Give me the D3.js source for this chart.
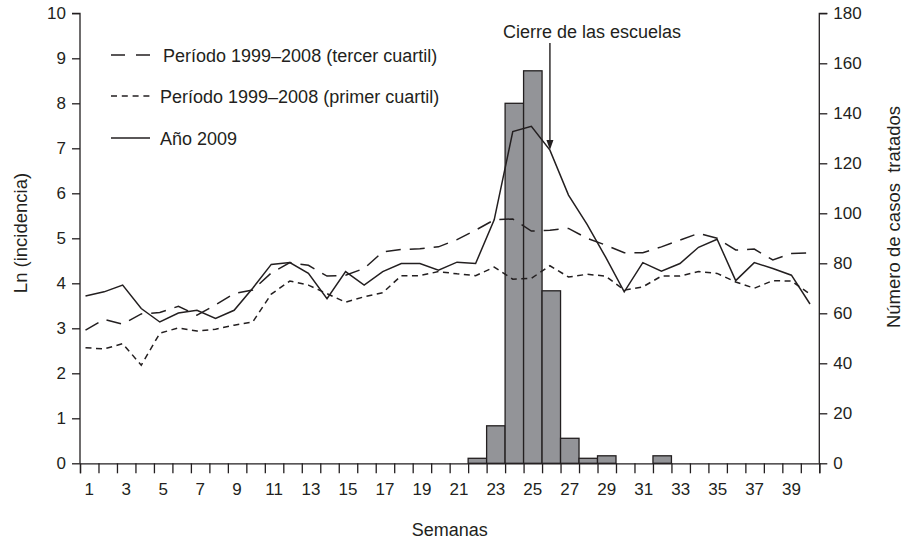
<!DOCTYPE html>
<html>
<head>
<meta charset="utf-8">
<script src="https://cdn.jsdelivr.net/npm/d3@7"></script>
<style>
  html, body { margin: 0; padding: 0; background: #fff; }
  svg { display: block; font-family: "Liberation Sans", Arial, sans-serif; }
</style>
</head>
<body>
<svg id="chart" width="904" height="542"></svg>
<script>
// ---------------- data ----------------
const weeks = d3.range(1, 41);
const weekTickLabels = [1,3,5,7,9,11,13,15,17,19,21,23,25,27,29,31,33,35,37,39];
const lnTicks = [0,1,2,3,4,5,6,7,8,9,10];
const casesTicks = [0,20,40,60,80,100,120,140,160,180];

// Año 2009 (solid)
const year2009 = [3.72,3.81,3.96,3.44,3.14,3.34,3.40,3.22,3.40,3.89,
                  4.42,4.46,4.22,3.66,4.26,3.96,4.26,4.44,4.44,4.29,
                  4.47,4.44,5.41,7.37,7.49,6.96,5.96,5.31,4.58,3.81,
                  4.46,4.27,4.44,4.80,4.98,4.06,4.46,4.33,4.18,3.54];
// Período 1999–2008 (tercer cuartil) (long dash)
const q3 = [2.96,3.20,3.09,3.32,3.35,3.49,3.29,3.52,3.77,3.85,
            4.23,4.46,4.40,4.16,4.18,4.33,4.70,4.75,4.77,4.81,
            4.97,5.18,5.41,5.43,5.16,5.18,5.22,5.00,4.85,4.68,
            4.68,4.81,4.96,5.11,5.00,4.74,4.76,4.52,4.66,4.68];
// Período 1999–2008 (primer cuartil) (short dash)
const q1 = [2.57,2.54,2.66,2.18,2.89,3.01,2.94,2.98,3.07,3.14,
            3.76,4.05,3.96,3.77,3.58,3.70,3.79,4.17,4.17,4.26,
            4.21,4.17,4.36,4.09,4.11,4.39,4.14,4.20,4.16,3.85,
            3.92,4.16,4.16,4.26,4.22,4.03,3.89,4.06,4.05,3.76];
// Número de casos tratados (bars)
const cases = [0,0,0,0,0,0,0,0,0,0,
               0,0,0,0,0,0,0,0,0,0,
               0,2,15,144,157,69,10,2,3,0,
               0,3,0,0,0,0,0,0,0,0];

const closureWeek = 26;
const closureLabel = "Cierre de las escuelas";
const legendLabels = ["Período 1999–2008 (tercer cuartil)", "Período 1999–2008 (primer cuartil)", "Año 2009"];

// ---------------- layout ----------------
const ink = "#231f20";
const barFill = "#939498";
const pLeft = 80, pRight = 819.3, pTop = 13.3, pBottom = 463.3;

const svg = d3.select("#chart");

const xBand = d3.scaleBand().domain(weeks).range([pLeft, pRight]).paddingInner(0).paddingOuter(0);
const xLine = d3.scaleLinear().domain([1, 40]).range([85.5, 810]);
const yLn = d3.scaleLinear().domain([0, 10]).range([pBottom, pTop]);
const yCases = d3.scaleLinear().domain([0, 180]).range([pBottom, pTop]);

// bars
svg.append("g").selectAll("rect")
  .data(weeks.map((w, i) => ({w, v: cases[i]})).filter(d => d.v > 0))
  .join("rect")
  .attr("x", d => xBand(d.w))
  .attr("width", xBand.bandwidth())
  .attr("y", d => yCases(d.v))
  .attr("height", d => yCases(0) - yCases(d.v))
  .attr("fill", barFill)
  .attr("stroke", ink)
  .attr("stroke-width", 1.3);

// axes
const axisFont = "17px";
const gL = svg.append("g").attr("transform", `translate(${pLeft},0)`)
  .call(d3.axisLeft(yLn).tickValues(lnTicks).tickSize(8).tickPadding(6).tickFormat(d3.format("d")));
const gR = svg.append("g").attr("transform", `translate(${pRight},0)`)
  .call(d3.axisRight(yCases).tickValues(casesTicks).tickSize(8).tickPadding(6).tickFormat(d3.format("d")));
// bottom axis: tick marks at band boundaries, labels at band centres
const boundaries = d3.range(0, 41);
const xBound = d3.scaleLinear().domain([0, 40]).range([pLeft, pRight]);
const gB = svg.append("g").attr("transform", `translate(0,${pBottom})`)
  .call(d3.axisBottom(xBound).tickValues(boundaries).tickSize(10).tickFormat(""));
const gBL = svg.append("g").attr("transform", `translate(0,${pBottom})`)
  .call(d3.axisBottom(xBand).tickValues(weekTickLabels).tickSize(0).tickPadding(20));
gBL.select(".domain").remove();

[gL, gR, gB, gBL].forEach(g => {
  g.selectAll(".domain").attr("stroke", ink).attr("stroke-width", 1.3);
  g.selectAll(".tick line").attr("stroke", ink).attr("stroke-width", 1.3);
  g.selectAll(".tick text").attr("fill", ink).style("font-size", axisFont).attr("font-family", null);
});
gL.select(".domain").attr("d", `M-8,${pTop}H0V${pBottom}`);
gR.select(".domain").attr("d", `M8,${pTop}H0V${pBottom}`);

// axis titles
svg.append("text").attr("transform", `translate(27,${233}) rotate(-90)`)
  .attr("text-anchor", "middle").attr("fill", ink).style("font-size", "18.5px").text("Ln (incidencia)");
svg.append("text").attr("transform", `translate(900,${217}) rotate(-90)`)
  .attr("text-anchor", "middle").attr("fill", ink).style("font-size", "18.5px")
  .style("white-space", "pre").text("Número de casos  tratados");
svg.append("text").attr("x", (pLeft + pRight) / 2).attr("y", 536)
  .attr("text-anchor", "middle").attr("fill", ink).style("font-size", "18px").text("Semanas");

// lines
const lineGen = vals => d3.line().x((d, i) => xLine(weeks[i])).y(d => yLn(d))(vals);
const series = [
  {vals: q3, dash: "15,9"},
  {vals: q1, dash: "6,4.5"},
  {vals: year2009, dash: null}
];
series.forEach(s => {
  svg.append("path").attr("d", lineGen(s.vals))
    .attr("fill", "none").attr("stroke", ink).attr("stroke-width", 1.5)
    .attr("stroke-linejoin", "miter")
    .attr("stroke-dasharray", s.dash);
});

// legend
const legY = [55, 96, 138];
series.forEach((s, i) => {
  svg.append("line").attr("x1", 111).attr("x2", 150).attr("y1", legY[i]).attr("y2", legY[i])
    .attr("stroke", ink).attr("stroke-width", 1.5)
    .attr("stroke-dasharray", i === 0 ? "14,11" : (i === 1 ? "6,4.8" : null));
  svg.append("text").attr("x", i === 0 ? 163 : 160).attr("y", legY[i] + 6.5)
    .attr("fill", ink).style("font-size", "18px").text(legendLabels[i]);
});

// annotation
const ax = xLine(closureWeek);
const tipY = yLn(year2009[closureWeek - 1]);
svg.append("text").attr("x", 592).attr("y", 38).attr("text-anchor", "middle")
  .attr("fill", ink).style("font-size", "18px").text(closureLabel);
svg.append("line").attr("x1", ax).attr("x2", ax).attr("y1", 43).attr("y2", tipY - 8)
  .attr("stroke", ink).attr("stroke-width", 1.4);
svg.append("path").attr("d", `M${ax},${tipY} L${ax - 3.5},${tipY - 10} L${ax + 3.5},${tipY - 10} Z`)
  .attr("fill", ink);
</script>
</body>
</html>
